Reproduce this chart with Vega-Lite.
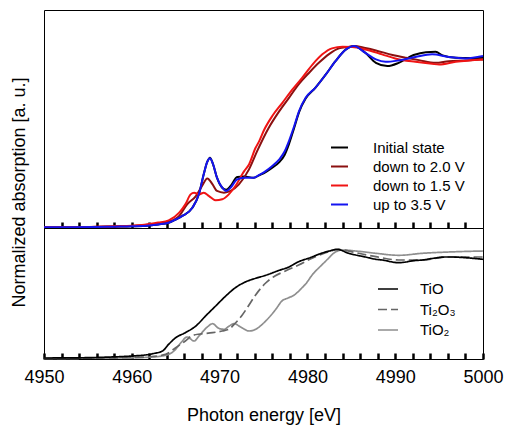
{
  "$schema": "https://vega.github.io/schema/vega-lite/v6.json",
  "padding": {"left": 9, "top": 9, "right": 2, "bottom": 2},
  "bounds": "flush",
  "spacing": 0,
  "config": {
    "font": "Liberation Sans",
    "view": {"stroke": "#000", "strokeWidth": 1},
    "legend": {"labelFont": "Liberation Sans", "labelColor": "#000", "labelFontSize": 15, "padding": 0, "labelLimit": 300}
  },
  "datasets": {
    "top": [
      {"e":4950,"v":0.005,"s":"Initial state"},{"e":4953,"v":0.005,"s":"Initial state"},{"e":4956,"v":0.006,"s":"Initial state"},{"e":4958,"v":0.008,"s":"Initial state"},{"e":4960,"v":0.01,"s":"Initial state"},{"e":4962,"v":0.015,"s":"Initial state"},{"e":4963,"v":0.021,"s":"Initial state"},{"e":4964.2,"v":0.031,"s":"Initial state"},{"e":4965,"v":0.05,"s":"Initial state"},{"e":4965.75,"v":0.071,"s":"Initial state"},{"e":4966.9,"v":0.119,"s":"Initial state"},{"e":4967.65,"v":0.2,"s":"Initial state"},{"e":4968.2,"v":0.318,"s":"Initial state"},{"e":4968.6,"v":0.39,"s":"Initial state"},{"e":4968.9,"v":0.414,"s":"Initial state"},{"e":4969.25,"v":0.376,"s":"Initial state"},{"e":4969.7,"v":0.296,"s":"Initial state"},{"e":4970.3,"v":0.237,"s":"Initial state"},{"e":4970.75,"v":0.225,"s":"Initial state"},{"e":4971.25,"v":0.247,"s":"Initial state"},{"e":4972,"v":0.3,"s":"Initial state"},{"e":4972.8,"v":0.303,"s":"Initial state"},{"e":4973.9,"v":0.296,"s":"Initial state"},{"e":4974.5,"v":0.31,"s":"Initial state"},{"e":4975.25,"v":0.329,"s":"Initial state"},{"e":4976,"v":0.355,"s":"Initial state"},{"e":4976.8,"v":0.388,"s":"Initial state"},{"e":4977.4,"v":0.43,"s":"Initial state"},{"e":4977.9,"v":0.494,"s":"Initial state"},{"e":4978.5,"v":0.59,"s":"Initial state"},{"e":4979.05,"v":0.682,"s":"Initial state"},{"e":4979.8,"v":0.762,"s":"Initial state"},{"e":4980.9,"v":0.825,"s":"Initial state"},{"e":4982.1,"v":0.904,"s":"Initial state"},{"e":4983.2,"v":0.982,"s":"Initial state"},{"e":4984.4,"v":1.051,"s":"Initial state"},{"e":4985.3,"v":1.071,"s":"Initial state"},{"e":4986.6,"v":1.031,"s":"Initial state"},{"e":4987.8,"v":0.972,"s":"Initial state"},{"e":4989.1,"v":0.953,"s":"Initial state"},{"e":4990.4,"v":0.972,"s":"Initial state"},{"e":4992.1,"v":1.018,"s":"Initial state"},{"e":4993.5,"v":1.035,"s":"Initial state"},{"e":4994.6,"v":1.037,"s":"Initial state"},{"e":4995.4,"v":1.016,"s":"Initial state"},{"e":4996.9,"v":1.002,"s":"Initial state"},{"e":4998.5,"v":1.0,"s":"Initial state"},{"e":5000,"v":1.002,"s":"Initial state"},

      {"e":4950,"v":0.005,"s":"down to 2.0 V"},{"e":4953,"v":0.005,"s":"down to 2.0 V"},{"e":4956,"v":0.007,"s":"down to 2.0 V"},{"e":4958,"v":0.009,"s":"down to 2.0 V"},{"e":4960,"v":0.012,"s":"down to 2.0 V"},{"e":4962,"v":0.02,"s":"down to 2.0 V"},{"e":4963,"v":0.027,"s":"down to 2.0 V"},{"e":4964.2,"v":0.037,"s":"down to 2.0 V"},{"e":4965.4,"v":0.071,"s":"down to 2.0 V"},{"e":4966.3,"v":0.139,"s":"down to 2.0 V"},{"e":4967.3,"v":0.188,"s":"down to 2.0 V"},{"e":4968,"v":0.247,"s":"down to 2.0 V"},{"e":4968.6,"v":0.292,"s":"down to 2.0 V"},{"e":4969.2,"v":0.257,"s":"down to 2.0 V"},{"e":4969.7,"v":0.218,"s":"down to 2.0 V"},{"e":4970.5,"v":0.208,"s":"down to 2.0 V"},{"e":4971.25,"v":0.218,"s":"down to 2.0 V"},{"e":4972.2,"v":0.257,"s":"down to 2.0 V"},{"e":4973.35,"v":0.345,"s":"down to 2.0 V"},{"e":4974.3,"v":0.455,"s":"down to 2.0 V"},{"e":4975.6,"v":0.59,"s":"down to 2.0 V"},{"e":4976.8,"v":0.688,"s":"down to 2.0 V"},{"e":4977.9,"v":0.766,"s":"down to 2.0 V"},{"e":4979,"v":0.845,"s":"down to 2.0 V"},{"e":4980.2,"v":0.914,"s":"down to 2.0 V"},{"e":4981.3,"v":0.972,"s":"down to 2.0 V"},{"e":4982.5,"v":1.025,"s":"down to 2.0 V"},{"e":4983.6,"v":1.057,"s":"down to 2.0 V"},{"e":4984.7,"v":1.066,"s":"down to 2.0 V"},{"e":4985.3,"v":1.071,"s":"down to 2.0 V"},{"e":4986.6,"v":1.059,"s":"down to 2.0 V"},{"e":4987.8,"v":1.045,"s":"down to 2.0 V"},{"e":4989.7,"v":1.018,"s":"down to 2.0 V"},{"e":4991.2,"v":1.002,"s":"down to 2.0 V"},{"e":4992.7,"v":0.988,"s":"down to 2.0 V"},{"e":4994.6,"v":0.972,"s":"down to 2.0 V"},{"e":4996.1,"v":0.982,"s":"down to 2.0 V"},{"e":4998,"v":0.986,"s":"down to 2.0 V"},{"e":5000,"v":0.992,"s":"down to 2.0 V"},

      {"e":4950,"v":0.005,"s":"down to 1.5 V"},{"e":4953,"v":0.005,"s":"down to 1.5 V"},{"e":4956,"v":0.007,"s":"down to 1.5 V"},{"e":4958,"v":0.01,"s":"down to 1.5 V"},{"e":4960,"v":0.013,"s":"down to 1.5 V"},{"e":4962,"v":0.024,"s":"down to 1.5 V"},{"e":4963,"v":0.032,"s":"down to 1.5 V"},{"e":4964.2,"v":0.045,"s":"down to 1.5 V"},{"e":4965.4,"v":0.09,"s":"down to 1.5 V"},{"e":4966.1,"v":0.139,"s":"down to 1.5 V"},{"e":4966.7,"v":0.198,"s":"down to 1.5 V"},{"e":4967.1,"v":0.208,"s":"down to 1.5 V"},{"e":4967.65,"v":0.198,"s":"down to 1.5 V"},{"e":4968.2,"v":0.208,"s":"down to 1.5 V"},{"e":4968.8,"v":0.188,"s":"down to 1.5 V"},{"e":4969.55,"v":0.163,"s":"down to 1.5 V"},{"e":4970.3,"v":0.169,"s":"down to 1.5 V"},{"e":4971.05,"v":0.198,"s":"down to 1.5 V"},{"e":4971.8,"v":0.247,"s":"down to 1.5 V"},{"e":4972.8,"v":0.335,"s":"down to 1.5 V"},{"e":4973.35,"v":0.374,"s":"down to 1.5 V"},{"e":4974.1,"v":0.472,"s":"down to 1.5 V"},{"e":4974.5,"v":0.51,"s":"down to 1.5 V"},{"e":4975.05,"v":0.575,"s":"down to 1.5 V"},{"e":4976,"v":0.659,"s":"down to 1.5 V"},{"e":4977.15,"v":0.737,"s":"down to 1.5 V"},{"e":4978.3,"v":0.816,"s":"down to 1.5 V"},{"e":4979.4,"v":0.884,"s":"down to 1.5 V"},{"e":4980.6,"v":0.963,"s":"down to 1.5 V"},{"e":4981.7,"v":1.022,"s":"down to 1.5 V"},{"e":4982.8,"v":1.057,"s":"down to 1.5 V"},{"e":4984,"v":1.066,"s":"down to 1.5 V"},{"e":4985.1,"v":1.065,"s":"down to 1.5 V"},{"e":4986.6,"v":1.051,"s":"down to 1.5 V"},{"e":4988.5,"v":1.022,"s":"down to 1.5 V"},{"e":4990,"v":0.998,"s":"down to 1.5 V"},{"e":4992.3,"v":0.978,"s":"down to 1.5 V"},{"e":4994.2,"v":0.966,"s":"down to 1.5 V"},{"e":4995,"v":0.962,"s":"down to 1.5 V"},{"e":4996.9,"v":0.978,"s":"down to 1.5 V"},{"e":5000,"v":0.992,"s":"down to 1.5 V"},

      {"e":4950,"v":0.005,"s":"up to 3.5 V"},{"e":4953,"v":0.005,"s":"up to 3.5 V"},{"e":4956,"v":0.006,"s":"up to 3.5 V"},{"e":4958,"v":0.008,"s":"up to 3.5 V"},{"e":4960,"v":0.01,"s":"up to 3.5 V"},{"e":4962,"v":0.015,"s":"up to 3.5 V"},{"e":4963,"v":0.021,"s":"up to 3.5 V"},{"e":4964.2,"v":0.031,"s":"up to 3.5 V"},{"e":4965,"v":0.05,"s":"up to 3.5 V"},{"e":4965.75,"v":0.071,"s":"up to 3.5 V"},{"e":4966.9,"v":0.119,"s":"up to 3.5 V"},{"e":4967.65,"v":0.2,"s":"up to 3.5 V"},{"e":4968.2,"v":0.318,"s":"up to 3.5 V"},{"e":4968.6,"v":0.39,"s":"up to 3.5 V"},{"e":4968.9,"v":0.41,"s":"up to 3.5 V"},{"e":4969.25,"v":0.376,"s":"up to 3.5 V"},{"e":4969.7,"v":0.296,"s":"up to 3.5 V"},{"e":4970.3,"v":0.237,"s":"up to 3.5 V"},{"e":4970.75,"v":0.218,"s":"up to 3.5 V"},{"e":4971.25,"v":0.237,"s":"up to 3.5 V"},{"e":4972,"v":0.286,"s":"up to 3.5 V"},{"e":4972.8,"v":0.296,"s":"up to 3.5 V"},{"e":4973.9,"v":0.296,"s":"up to 3.5 V"},{"e":4974.5,"v":0.312,"s":"up to 3.5 V"},{"e":4975.25,"v":0.335,"s":"up to 3.5 V"},{"e":4976,"v":0.365,"s":"up to 3.5 V"},{"e":4976.8,"v":0.404,"s":"up to 3.5 V"},{"e":4977.4,"v":0.45,"s":"up to 3.5 V"},{"e":4977.9,"v":0.512,"s":"up to 3.5 V"},{"e":4978.5,"v":0.6,"s":"up to 3.5 V"},{"e":4979.05,"v":0.688,"s":"up to 3.5 V"},{"e":4979.8,"v":0.766,"s":"up to 3.5 V"},{"e":4980.9,"v":0.825,"s":"up to 3.5 V"},{"e":4982.1,"v":0.904,"s":"up to 3.5 V"},{"e":4983.2,"v":0.982,"s":"up to 3.5 V"},{"e":4984.4,"v":1.051,"s":"up to 3.5 V"},{"e":4985.3,"v":1.071,"s":"up to 3.5 V"},{"e":4986.6,"v":1.031,"s":"up to 3.5 V"},{"e":4987.8,"v":0.992,"s":"up to 3.5 V"},{"e":4988.9,"v":0.978,"s":"up to 3.5 V"},{"e":4990.4,"v":0.986,"s":"up to 3.5 V"},{"e":4992.3,"v":1.006,"s":"up to 3.5 V"},{"e":4994.2,"v":1.022,"s":"up to 3.5 V"},{"e":4996.1,"v":1.006,"s":"up to 3.5 V"},{"e":4998,"v":0.998,"s":"up to 3.5 V"},{"e":5000,"v":1.012,"s":"up to 3.5 V"}
    ],
    "bot": [
      {"e":4950,"v":0.005,"s":"TiO₂"},{"e":4955,"v":0.008,"s":"TiO₂"},{"e":4960,"v":0.012,"s":"TiO₂"},{"e":4962,"v":0.018,"s":"TiO₂"},{"e":4963.85,"v":0.037,"s":"TiO₂"},{"e":4964.8,"v":0.08,"s":"TiO₂"},{"e":4965.6,"v":0.163,"s":"TiO₂"},{"e":4966.3,"v":0.22,"s":"TiO₂"},{"e":4967.1,"v":0.18,"s":"TiO₂"},{"e":4967.65,"v":0.23,"s":"TiO₂"},{"e":4968.6,"v":0.32,"s":"TiO₂"},{"e":4969.2,"v":0.353,"s":"TiO₂"},{"e":4969.9,"v":0.307,"s":"TiO₂"},{"e":4970.5,"v":0.297,"s":"TiO₂"},{"e":4971.1,"v":0.33,"s":"TiO₂"},{"e":4971.65,"v":0.353,"s":"TiO₂"},{"e":4972.4,"v":0.32,"s":"TiO₂"},{"e":4973.35,"v":0.28,"s":"TiO₂"},{"e":4974.1,"v":0.297,"s":"TiO₂"},{"e":4975.25,"v":0.38,"s":"TiO₂"},{"e":4976.4,"v":0.497,"s":"TiO₂"},{"e":4977.1,"v":0.58,"s":"TiO₂"},{"e":4977.8,"v":0.61,"s":"TiO₂"},{"e":4978.5,"v":0.64,"s":"TiO₂"},{"e":4979.4,"v":0.713,"s":"TiO₂"},{"e":4979.8,"v":0.75,"s":"TiO₂"},{"e":4980.6,"v":0.847,"s":"TiO₂"},{"e":4981.4,"v":0.92,"s":"TiO₂"},{"e":4982.1,"v":0.98,"s":"TiO₂"},{"e":4983.2,"v":1.07,"s":"TiO₂"},{"e":4984,"v":1.09,"s":"TiO₂"},{"e":4985.5,"v":1.08,"s":"TiO₂"},{"e":4987.8,"v":1.057,"s":"TiO₂"},{"e":4990.4,"v":1.037,"s":"TiO₂"},{"e":4993.1,"v":1.057,"s":"TiO₂"},{"e":4996.1,"v":1.07,"s":"TiO₂"},{"e":5000,"v":1.08,"s":"TiO₂"},

      {"e":4950,"v":0.005,"s":"Ti₂O₃"},{"e":4955,"v":0.008,"s":"Ti₂O₃"},{"e":4960,"v":0.015,"s":"Ti₂O₃"},{"e":4962,"v":0.022,"s":"Ti₂O₃"},{"e":4963.85,"v":0.047,"s":"Ti₂O₃"},{"e":4965,"v":0.113,"s":"Ti₂O₃"},{"e":4966.1,"v":0.18,"s":"Ti₂O₃"},{"e":4966.9,"v":0.235,"s":"Ti₂O₃"},{"e":4967.8,"v":0.25,"s":"Ti₂O₃"},{"e":4969.2,"v":0.263,"s":"Ti₂O₃"},{"e":4970.3,"v":0.28,"s":"Ti₂O₃"},{"e":4971.1,"v":0.3,"s":"Ti₂O₃"},{"e":4971.8,"v":0.36,"s":"Ti₂O₃"},{"e":4972.5,"v":0.43,"s":"Ti₂O₃"},{"e":4973.2,"v":0.52,"s":"Ti₂O₃"},{"e":4974.1,"v":0.64,"s":"Ti₂O₃"},{"e":4975.25,"v":0.76,"s":"Ti₂O₃"},{"e":4976.3,"v":0.83,"s":"Ti₂O₃"},{"e":4977.5,"v":0.88,"s":"Ti₂O₃"},{"e":4979,"v":0.94,"s":"Ti₂O₃"},{"e":4980.6,"v":1.01,"s":"Ti₂O₃"},{"e":4982,"v":1.06,"s":"Ti₂O₃"},{"e":4983.6,"v":1.095,"s":"Ti₂O₃"},{"e":4985.5,"v":1.063,"s":"Ti₂O₃"},{"e":4987.8,"v":1.023,"s":"Ti₂O₃"},{"e":4990.4,"v":0.99,"s":"Ti₂O₃"},{"e":4993.1,"v":0.99,"s":"Ti₂O₃"},{"e":4995.75,"v":1.02,"s":"Ti₂O₃"},{"e":4998,"v":1.02,"s":"Ti₂O₃"},{"e":5000,"v":1.02,"s":"Ti₂O₃"},

      {"e":4950,"v":0.01,"s":"TiO"},{"e":4954,"v":0.012,"s":"TiO"},{"e":4957,"v":0.018,"s":"TiO"},{"e":4960,"v":0.03,"s":"TiO"},{"e":4961.5,"v":0.04,"s":"TiO"},{"e":4962.5,"v":0.055,"s":"TiO"},{"e":4963.5,"v":0.08,"s":"TiO"},{"e":4964.2,"v":0.147,"s":"TiO"},{"e":4965,"v":0.213,"s":"TiO"},{"e":4966.1,"v":0.263,"s":"TiO"},{"e":4967.3,"v":0.33,"s":"TiO"},{"e":4968.4,"v":0.43,"s":"TiO"},{"e":4969.55,"v":0.53,"s":"TiO"},{"e":4970.7,"v":0.63,"s":"TiO"},{"e":4971.8,"v":0.713,"s":"TiO"},{"e":4973,"v":0.773,"s":"TiO"},{"e":4974.1,"v":0.807,"s":"TiO"},{"e":4975.25,"v":0.837,"s":"TiO"},{"e":4976.8,"v":0.887,"s":"TiO"},{"e":4977.9,"v":0.92,"s":"TiO"},{"e":4979,"v":0.973,"s":"TiO"},{"e":4980.2,"v":1.01,"s":"TiO"},{"e":4981.7,"v":1.06,"s":"TiO"},{"e":4982.5,"v":1.08,"s":"TiO"},{"e":4983.4,"v":1.097,"s":"TiO"},{"e":4984.7,"v":1.057,"s":"TiO"},{"e":4985.5,"v":1.04,"s":"TiO"},{"e":4986.6,"v":1.02,"s":"TiO"},{"e":4987.8,"v":0.997,"s":"TiO"},{"e":4988.5,"v":0.99,"s":"TiO"},{"e":4990.4,"v":0.963,"s":"TiO"},{"e":4992.3,"v":0.985,"s":"TiO"},{"e":4993.1,"v":0.99,"s":"TiO"},{"e":4994.2,"v":1.005,"s":"TiO"},{"e":4995.75,"v":1.02,"s":"TiO"},{"e":4996.5,"v":1.02,"s":"TiO"},{"e":4998,"v":1.013,"s":"TiO"},{"e":5000,"v":0.997,"s":"TiO"}
    ]
  },
  "vconcat": [
    {
      "width": 439,
      "height": 218,
      "data": {"name": "top"},
      "mark": {"type": "line", "strokeWidth": 2, "interpolate": "monotone"},
      "encoding": {
        "y": {"field": "v", "type": "quantitative", "scale": {"domain": [0, 1.283], "nice": false, "zero": false},
          "axis": {"title": "Normalized absorption [a. u.]", "titleFont": "Liberation Sans", "titleColor": "#000", "titleFontWeight": "normal", "labels": false, "ticks": false, "domain": false, "grid": false, "titleFontSize": 18, "titlePadding": 16, "titleY": 182}},
        "x": {"field": "e", "type": "quantitative", "scale": {"domain": [4950, 5000], "nice": false, "zero": false},
          "axis": {"orient": "bottom", "title": null, "labels": false, "grid": false, "domain": false, "ticks": true, "tickColor": "black", "tickWidth": 2.5, "tickSize": -6,
            "values": [4952,4954,4956,4958,4960,4962,4964,4966,4968,4970,4972,4974,4976,4978,4980,4982,4984,4986,4988,4990,4992,4994,4996,4998]}},
        "color": {"field": "s", "type": "nominal",
          "scale": {"domain": ["Initial state", "down to 2.0 V", "down to 1.5 V", "up to 3.5 V"], "range": ["#000000", "#8b1010", "#f01414", "#1414f0"]},
          "legend": {"title": null, "orient": "none", "legendX": 286, "legendY": 128, "rowPadding": 1, "symbolType": "stroke", "symbolSize": 289, "symbolStrokeWidth": 2, "labelOffset": 24}}
      }
    },
    {
      "width": 439,
      "height": 131,
      "data": {"name": "bot"},
      "mark": {"type": "line", "strokeWidth": 1.7, "interpolate": "monotone"},
      "encoding": {
        "y": {"field": "v", "type": "quantitative", "scale": {"domain": [0, 1.31], "nice": false, "zero": false}, "axis": null},
        "x": {"field": "e", "type": "quantitative", "scale": {"domain": [4950, 5000], "nice": false, "zero": false},
          "axis": {"orient": "bottom", "title": "Photon energy [eV]", "titleFont": "Liberation Sans", "labelFont": "Liberation Sans", "titleColor": "#000", "labelColor": "#000", "titleFontWeight": "normal", "titleFontSize": 18, "titlePadding": 20,
            "labelFontSize": 18, "labelPadding": 15, "labelFlush": false, "labelOverlap": false, "grid": false, "domain": false, "format": "d",
            "labelExpr": "datum.value % 10 === 0 ? datum.label : ''",
            "ticks": true, "tickColor": "black", "tickWidth": 2.5, "tickSize": -6,
            "values": [4950,4952,4954,4956,4958,4960,4962,4964,4966,4968,4970,4972,4974,4976,4978,4980,4982,4984,4986,4988,4990,4992,4994,4996,4998,5000]}},
        "color": {"field": "s", "type": "nominal",
          "scale": {"domain": ["TiO", "Ti₂O₃", "TiO₂"], "range": ["#000000", "#666666", "#8f8f8f"]},
          "legend": {"title": null, "orient": "none", "legendX": 333, "legendY": 50, "rowPadding": 1.5, "symbolType": "stroke", "symbolSize": 400, "symbolStrokeWidth": 1.7, "labelOffset": 21}},
        "strokeDash": {"field": "s", "type": "nominal",
          "scale": {"domain": ["TiO", "Ti₂O₃", "TiO₂"], "range": [[1, 0], [9, 4], [1, 0]]},
          "legend": {"title": null, "orient": "none", "legendX": 333, "legendY": 50, "rowPadding": 1.5, "symbolType": "stroke", "symbolSize": 400, "symbolStrokeWidth": 1.7, "labelOffset": 21}}
      }
    }
  ],
  "resolve": {"scale": {"color": "independent", "strokeDash": "independent", "y": "independent", "x": "independent"}, "legend": {"color": "independent", "strokeDash": "independent"}}
}
